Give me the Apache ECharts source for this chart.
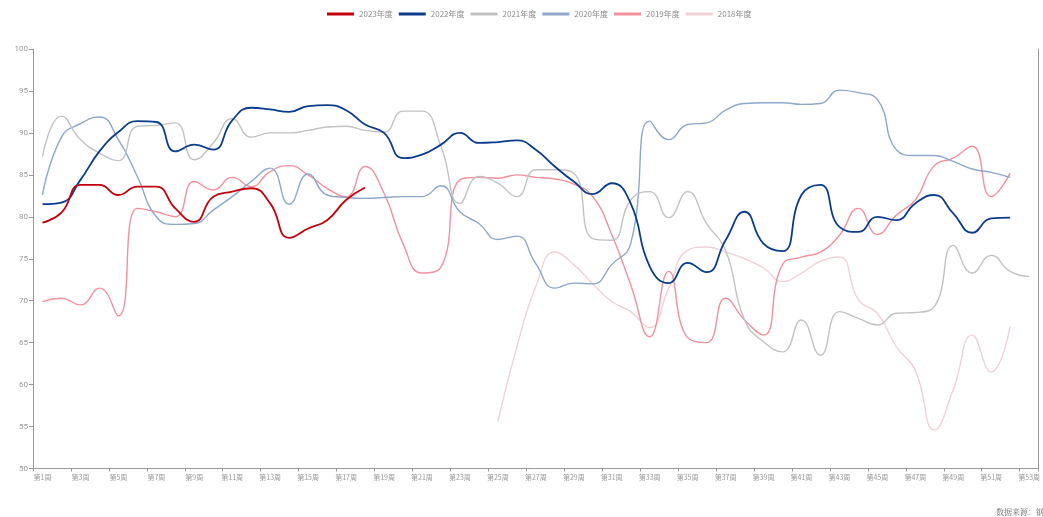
<!DOCTYPE html>
<html><head><meta charset="utf-8">
<script src="https://cdn.jsdelivr.net/npm/echarts@6/dist/echarts.min.js"></script>
<style>html,body{margin:0;padding:0;background:#fff}#c{width:1043px;height:517px}</style>
</head><body><div id="c"></div>
<script>
var weeks = [];
for (var i = 1; i <= 53; i++) weeks.push('第' + i + '周');
var yTicks = [50, 55, 60, 65, 70, 75, 80, 85, 90, 95, 100];
var seriesNames = ['2023年度', '2022年度', '2021年度', '2020年度', '2019年度', '2018年度'];

var s2023 = [79.3,80.5,83.8,83.8,82.6,83.6,83.6,81.0,79.4,82.4,83.0,83.4,81.6,77.5,78.6,79.6,82.0,83.5];
var s2022 = [81.5,81.7,84.4,87.8,90.1,91.4,91.3,87.8,88.6,88.0,91.5,93.0,92.8,92.5,93.2,93.3,92.7,91.0,90.0,87.0,87.4,88.6,90.0,88.8,88.9,89.1,88.0,86.0,84.2,82.7,84.0,81.6,74.1,72.1,74.5,73.4,77.2,80.6,76.8,75.9,82.6,83.8,78.8,78.2,80.0,79.6,81.6,82.6,80.4,78.1,79.8,79.9];
var s2021 = [87.2,92.0,89.2,87.6,86.7,90.8,90.9,91.2,86.8,88.8,91.7,89.5,90.0,90.0,90.3,90.7,90.8,90.3,90.1,92.6,92.6,88.4,81.6,84.8,84.0,82.4,85.6,85.6,85.2,77.4,77.2,82.0,83.0,79.9,83.0,79.2,76.0,67.7,65.1,63.9,67.7,63.5,68.7,67.9,67.1,68.5,68.6,69.3,76.6,73.3,75.4,73.5,72.9];
var s2020 = [82.6,89.5,91.1,91.9,89.2,84.8,80.0,79.1,79.2,80.8,82.4,84.2,85.8,81.5,85.1,82.6,82.3,82.2,82.3,82.4,82.4,83.7,80.6,79.2,77.3,77.7,74.4,71.5,72.1,72.0,74.3,76.8,91.4,89.2,91.0,91.2,92.7,93.5,93.6,93.6,93.4,93.5,95.1,94.8,94.0,88.0,87.3,87.3,86.6,85.7,85.3,84.7];
var s2019 = [69.9,70.3,69.5,71.5,68.2,81.0,80.6,80.0,84.2,83.2,84.7,83.6,85.4,86.1,85.0,83.4,82.4,86.0,82.8,76.8,73.3,74.0,84.4,84.7,84.6,85.0,84.7,84.5,83.9,82.4,77.9,71.9,65.7,73.5,65.6,65.0,70.3,67.7,65.9,74.3,75.2,75.8,77.8,81.0,77.9,80.2,82.0,86.1,87.0,88.4,82.4,85.2];
var s2018 = [null,null,null,null,null,null,null,null,null,null,null,null,null,null,null,null,null,null,null,null,null,null,null,null,55.6,64.5,71.7,75.8,74.3,72.0,69.9,68.7,66.8,71.5,76.0,76.4,75.8,75.0,73.9,72.3,73.3,74.7,75.2,70.1,68.5,64.5,61.7,54.6,59.4,65.9,61.5,66.9];

var colors = ['#c3000c', '#0b3c8c', '#c2c2c2', '#8ea7cb', '#f2909c', '#efd2d6'];
var widths = [1.8, 1.8, 1.4, 1.4, 1.4, 1.4];
var allData = [s2023, s2022, s2021, s2020, s2019, s2018];

var series = seriesNames.map(function (n, i) {
  return {
    name: n, type: 'line', data: allData[i], smooth: true, showSymbol: false, symbol: 'none',
    connectNulls: false, z: 10 - i,
    lineStyle: { color: colors[i], width: widths[i] },
    itemStyle: { color: colors[i] }
  };
});

var chart = echarts.init(document.getElementById('c'), null, { renderer: 'canvas' });
chart.setOption({
  animation: false,
  color: colors,
  legend: {
    data: seriesNames, top: 5, left: 322, icon: 'rect', itemWidth: 27, itemHeight: 3, itemGap: 6,
    textStyle: { color: '#8c8c8c', fontSize: 8, width: 33, fontFamily: 'Noto Sans CJK SC' }
  },
  grid: { left: 33, right: 2, top: 49, bottom: 48.5, containLabel: false },
  xAxis: {
    type: 'category', data: weeks, boundaryGap: true,
    axisLine: { lineStyle: { color: '#9a9a9a' } },
    axisTick: { show: true, length: 3, lineStyle: { color: '#9a9a9a' } },
    axisLabel: { interval: 1, color: '#9a9a9a', fontSize: 7, margin: 5, fontFamily: 'Noto Sans CJK SC' },
    splitLine: { show: false }
  },
  yAxis: [{
    type: 'value', min: yTicks[0], max: yTicks[yTicks.length - 1], interval: 5,
    axisLine: { show: true, lineStyle: { color: '#9a9a9a' } },
    axisTick: { show: true, length: 4, lineStyle: { color: '#9a9a9a' } },
    axisLabel: { color: '#9a9a9a', fontSize: 8, margin: 5, fontFamily: 'Roboto' },
    splitLine: { show: false }
  }, {
    type: 'value', position: 'right', min: yTicks[0], max: yTicks[yTicks.length - 1], interval: 5,
    axisLine: { show: true, lineStyle: { color: '#9a9a9a' } },
    axisTick: { show: false }, axisLabel: { show: false }, splitLine: { show: false }
  }],
  graphic: [{
    type: 'text', left: 996, top: 508,
    style: { text: '数据来源：钢联', fill: '#666', font: '8px "Noto Serif CJK SC", "Noto Sans CJK SC"' }
  }],
  series: series
});
</script></body></html>
